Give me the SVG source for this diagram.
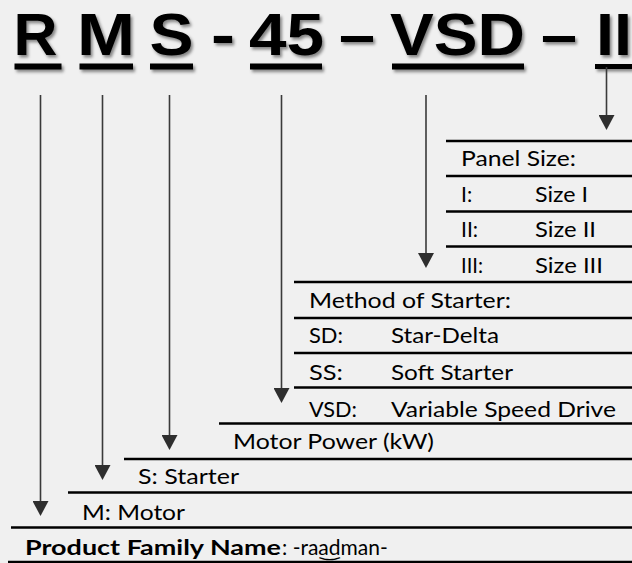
<svg xmlns="http://www.w3.org/2000/svg" width="632" height="563" viewBox="0 0 632 563">
<defs>
<filter id="sh" x="-20%" y="-20%" width="140%" height="140%">
<feDropShadow dx="2" dy="2.5" stdDeviation="1.5" flood-color="#000" flood-opacity="0.45"/>
</filter>
<marker id="ah" markerUnits="userSpaceOnUse" markerWidth="16" markerHeight="16" refX="1" refY="8" orient="auto">
<path d="M0,0 L15,8 L0,16 z" fill="#2e2e2e"/>
</marker>
</defs>
<style>
.hd{font-family:"Liberation Sans",Arial,sans-serif;font-weight:bold;font-size:60px;fill:#000}
.ul{fill:#000}
.hl{stroke:#000;stroke-width:2.5;fill:none}
.ar{stroke:#3a3a3a;stroke-width:1.6;fill:none;marker-end:url(#ah)}
.t{font-family:Lato,"Open Sans","Liberation Sans",sans-serif;font-size:21px;fill:#000}
.b{font-weight:bold}
</style>
<rect x="0" y="0" width="632" height="563" fill="#f0f0f0"/>

<g id="header" filter="url(#sh)">
<text class="hd" x="13.5" y="55" textLength="44" lengthAdjust="spacingAndGlyphs">R</text>
<text class="hd" x="77" y="55" textLength="58" lengthAdjust="spacingAndGlyphs">M</text>
<text class="hd" x="149.5" y="55" textLength="44" lengthAdjust="spacingAndGlyphs">S</text>
<text class="hd" x="211" y="55" textLength="24" lengthAdjust="spacingAndGlyphs">-</text>
<text class="hd" x="249" y="55" textLength="75" lengthAdjust="spacingAndGlyphs">45</text>
<text class="hd" x="339" y="55" textLength="36" lengthAdjust="spacingAndGlyphs">–</text>
<text class="hd" x="390" y="55" textLength="135" lengthAdjust="spacingAndGlyphs">VSD</text>
<text class="hd" x="541" y="55" textLength="36" lengthAdjust="spacingAndGlyphs">–</text>
<text class="hd" x="596" y="55" textLength="36" lengthAdjust="spacingAndGlyphs">II</text>
<rect class="ul" x="14.5" y="63.5" width="47" height="6"/>
<rect class="ul" x="79.5" y="63.5" width="53.5" height="6"/>
<rect class="ul" x="150" y="63.5" width="43" height="6"/>
<rect class="ul" x="250" y="63.5" width="72" height="6"/>
<rect class="ul" x="392" y="63.5" width="132" height="6"/>
<rect class="ul" x="595" y="64" width="37" height="5"/>
</g>

<g id="connectors">
<line class="ar" x1="40.5" y1="95" x2="40.5" y2="502"/>
<line class="ar" x1="102.5" y1="95" x2="102.5" y2="466"/>
<line class="ar" x1="169.5" y1="95" x2="169.5" y2="436"/>
<line class="ar" x1="281.5" y1="95" x2="281.5" y2="389"/>
<line class="ar" x1="426" y1="95" x2="426" y2="254"/>
<line class="ar" x1="606.5" y1="67" x2="606.5" y2="116"/>
</g>

<g id="panel-size">
<line class="hl" x1="446" y1="141" x2="632" y2="141"/>
<line class="hl" x1="446" y1="176" x2="632" y2="176"/>
<line class="hl" x1="446" y1="211.5" x2="632" y2="211.5"/>
<line class="hl" x1="446" y1="246.5" x2="632" y2="246.5"/>
<text class="t" x="461" y="166" textLength="115" lengthAdjust="spacingAndGlyphs">Panel Size:</text>
<text class="t" x="461" y="201.5">I:</text>
<text class="t" x="535" y="201.5" textLength="53" lengthAdjust="spacingAndGlyphs">Size I</text>
<text class="t" x="461" y="236.5">II:</text>
<text class="t" x="535" y="236.5" textLength="61" lengthAdjust="spacingAndGlyphs">Size II</text>
<text class="t" x="461" y="273" textLength="22" lengthAdjust="spacingAndGlyphs">III:</text>
<text class="t" x="535" y="273" textLength="68" lengthAdjust="spacingAndGlyphs">Size III</text>
</g>

<g id="method-of-starter">
<line class="hl" x1="294" y1="282" x2="632" y2="282"/>
<line class="hl" x1="294" y1="318" x2="632" y2="318"/>
<line class="hl" x1="294" y1="353" x2="632" y2="353"/>
<line class="hl" x1="294" y1="387.5" x2="632" y2="387.5"/>
<text class="t" x="309" y="307.5" textLength="202" lengthAdjust="spacingAndGlyphs">Method of Starter:</text>
<text class="t" x="309" y="343" textLength="34" lengthAdjust="spacingAndGlyphs">SD:</text>
<text class="t" x="391" y="343" textLength="108" lengthAdjust="spacingAndGlyphs">Star-Delta</text>
<text class="t" x="309" y="380" textLength="34" lengthAdjust="spacingAndGlyphs">SS:</text>
<text class="t" x="391" y="380" textLength="122" lengthAdjust="spacingAndGlyphs">Soft Starter</text>
<text class="t" x="309" y="416.5" textLength="48" lengthAdjust="spacingAndGlyphs">VSD:</text>
<text class="t" x="391" y="416.5" textLength="225" lengthAdjust="spacingAndGlyphs">Variable Speed Drive</text>
</g>

<g id="motor-power">
<line class="hl" x1="219" y1="423.5" x2="632" y2="423.5"/>
<text class="t" x="233" y="449" textLength="201" lengthAdjust="spacingAndGlyphs">Motor Power (kW)</text>
</g>

<g id="starter">
<line class="hl" x1="124" y1="459" x2="632" y2="459"/>
<text class="t" x="138" y="484" textLength="101" lengthAdjust="spacingAndGlyphs">S: Starter</text>
</g>

<g id="motor">
<line class="hl" x1="68" y1="492.5" x2="632" y2="492.5"/>
<text class="t" x="82" y="520" textLength="103" lengthAdjust="spacingAndGlyphs">M: Motor</text>
</g>

<g id="product-family">
<line class="hl" x1="11" y1="527.5" x2="632" y2="527.5"/>
<line class="hl" x1="8" y1="562" x2="632" y2="562"/>
<text class="t b" x="25" y="555" textLength="256" lengthAdjust="spacingAndGlyphs">Product Family Name</text>
<text class="t" x="282" y="555">: -ra͜adman-</text>
</g>
</svg>
